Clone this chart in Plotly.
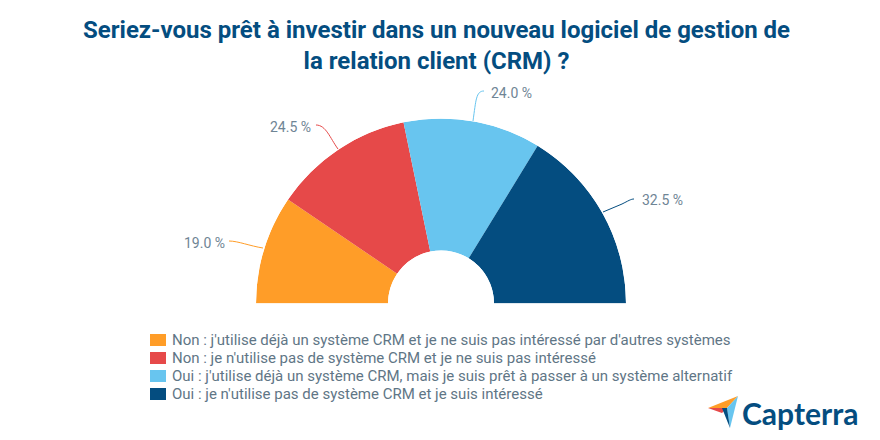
import plotly.graph_objects as go

# Data
title_text = 'Seriez-vous prêt à investir dans un nouveau logiciel de gestion de<br>la relation client (CRM) ?'
categories = [
    "Non : j'utilise déjà un système CRM et je ne suis pas intéressé par d'autres systèmes",
    "Non : je n'utilise pas de système CRM et je ne suis pas intéressé",
    "Oui : j'utilise déjà un système CRM, mais je suis prêt à passer à un système alternatif",
    "Oui : je n'utilise pas de système CRM et je suis intéressé",
]
values = [19.0, 24.5, 24.0, 32.5]
colors = ['#ff9d28', '#e64949', '#68c5ef', '#044d80']

W, H = 880, 440
GREY = '#5f7686'
LABEL_GREY = '#6f8595'


def px(x):
    return x / W


def py(y):
    return 1 - y / H


# half donut, 100 % spread over 180 degrees starting on the left
widths = [v * 1.8 for v in values]
thetas = []
start = 180
for w in widths:
    thetas.append(start - w / 2)
    start -= w

data = []
data.append(go.Barpolar(r=[1] * len(values), theta=thetas, width=widths,
                        marker=dict(color=colors, line=dict(width=0)),
                        showlegend=False, hoverinfo='skip'))

# Label positions and leader lines
label_pos = [(204, 243), (290, 127), (511, 93), (662, 200)]
leaders = [
    'M 229 241 C 238 241, 250 246, 263 248',
    'M 316 125 C 326 125, 330 138, 338 149',
    'M 484 91 C 476 91, 476 100, 473 121',
    'M 603 212 L 622 204 C 628 201, 631 199, 634 199',
]

shapes = []
annotations = []
for pos, path, val, col in zip(label_pos, leaders, values, colors):
    annotations.append(dict(x=px(pos[0]), y=py(pos[1]), xref='paper', yref='paper',
                            xanchor='center', yanchor='middle',
                            text='%.1f %%' % val, showarrow=False,
                            font=dict(family='Roboto', size=14, color=LABEL_GREY)))
    # path given in pixels, converted to paper coordinates
    parts = path.replace(',', ' ').split()
    out = []
    i = 0
    while i < len(parts):
        if parts[i] in 'MLC':
            out.append(parts[i])
            i += 1
        else:
            out.append('%.5f,%.5f' % (px(float(parts[i])), py(float(parts[i + 1]))))
            i += 2
    shapes.append(dict(type='path', xref='paper', yref='paper', path=' '.join(out),
                       line=dict(color=col, width=1)))

# Legend
for i, (cat, col) in enumerate(zip(categories, colors)):
    yc = 340 + i * 18
    shapes.append(dict(type='rect', xref='paper', yref='paper', x0=px(150), x1=px(166),
                       y0=py(yc - 6), y1=py(yc + 6), fillcolor=col, line=dict(width=0)))
    annotations.append(dict(x=px(170), y=py(yc - 0.5), xref='paper', yref='paper',
                            xanchor='left', yanchor='middle',
                            text=cat, showarrow=False,
                            font=dict(family='Roboto', size=15, color=GREY)))

# Title
annotations.append(dict(x=px(436), y=py(45), xref='paper', yref='paper', text=title_text,
                        xanchor='center', yanchor='middle',
                        showarrow=False, align='center',
                        font=dict(family='Roboto', size=24, color='#044d80', weight='bold')))

# Logo
logo = [
    ([(708, 408), (738, 396), (727, 408)], '#ff9d28'),
    ([(708, 408), (727, 408), (722, 413)], '#e64949'),
    ([(738, 396), (730, 428), (727, 408)], '#68c5ef'),
    ([(722, 408), (727, 408), (730, 428)], '#044d80'),
]
for pts, col in logo:
    path = 'M ' + ' L '.join('%.5f,%.5f' % (px(x), py(y)) for x, y in pts) + ' Z'
    shapes.append(dict(type='path', xref='paper', yref='paper', path=path,
                       fillcolor=col, line=dict(width=0)))
annotations.append(dict(x=px(740), y=py(413), xref='paper', yref='paper',
                        xanchor='left', yanchor='middle',
                        text='Capterra', showarrow=False,
                        font=dict(family='Lato', size=30, color='#044d80', weight='bold')))

# Layout
layout = {
    'width': W,
    'height': H,
    'margin': dict(l=0, r=0, t=0, b=0),
    'paper_bgcolor': 'white',
    'polar': dict(
        domain=dict(x=[px(256), px(626)], y=[py(303.5), py(118.5)]),
        sector=[0, 180],
        hole=53 / 185,
        bgcolor='rgba(0,0,0,0)',
        radialaxis=dict(visible=False, range=[0, 1]),
        angularaxis=dict(visible=False),
    ),
    'shapes': shapes,
    'annotations': annotations,
}

fig = go.Figure(data=data, layout=layout)
# page body has a default margin, drop it so the chart fills the window
fig.write_html('out.html', config={'displayModeBar': False},
               post_script="document.body.style.margin='0';")
